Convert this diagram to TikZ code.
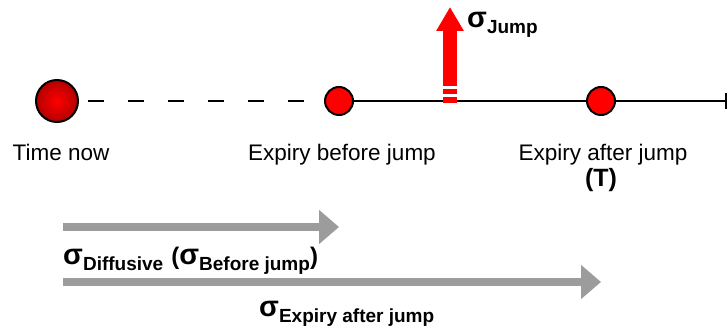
\documentclass[tikz,border=0pt]{standalone}
\usepackage{fontspec}
\setmainfont{Liberation Sans}
\usepackage{tikz}
\usetikzlibrary{arrows.meta,positioning,calc}
\definecolor{dotred}{HTML}{FF0000}
\definecolor{spangray}{HTML}{9C9C9C}
\newcommand\sigsub[1]{\raisebox{-6pt}{\fontsize{19}{21}\selectfont #1}}

\begin{document}
\begin{tikzpicture}[x=1pt,y=1pt,
  dot/.style={circle,draw=black,line width=2pt,fill=dotred,minimum size=28pt,inner sep=0pt},
  timeline/.style={line width=2pt,black},
  when/.style={anchor=base,inner sep=0pt,font=\fontsize{22.5}{27}\selectfont},
  siglabel/.style={anchor=base west,inner sep=0pt,font=\bfseries\fontsize{29}{32}\selectfont},
  span/.style={line width=8pt,spangray,-{Triangle[length=20pt,width=33pt]}},
  jumparrow/.style={line width=14pt,dotred,-{Triangle[length=24pt,width=26pt]}}
]
  \useasboundingbox (0,0) rectangle (727,-328);
  \node[circle,draw=black,line width=2pt,minimum size=42pt,inner sep=0pt,shading=radial,inner color=dotred,outer color=dotred!70!black] (now) at (57,-101) {};
  \node[dot] (before) at (339,-101) {};
  \node[dot] (after) at (601,-101) {};
  \coordinate (end) at (726,-101);
  \coordinate (jump) at (450,-101);
  \coordinate (jumptip) at (450,-7);
  \draw[timeline,dash pattern=on 16pt off 24pt,dash phase=31pt] (now) -- (before);
  \draw[timeline] (before) -- (after);
  \draw[timeline] (after) -- (end);
  \draw[timeline] ([yshift=-8pt]end) -- ([yshift=8pt]end);
  \fill[dotred] ([xshift=-7pt,yshift=-2pt]jump) rectangle ([xshift=7pt,yshift=4pt]jump);
  \fill[dotred] ([xshift=-7pt,yshift=7pt]jump) rectangle ([xshift=7pt,yshift=12pt]jump);
  \draw[jumparrow] ([yshift=15pt]jump) -- (jumptip);
  \node[siglabel] (jumplabel) at (467,-28) {σ\sigsub{Jump}};
  \node[when] (nowlabel) at (61,-161) {Time now};
  \node[when] (beforelabel) at (342,-161) {Expiry before jump};
  \node[when] (afterlabel) at (603,-161) {Expiry after jump};
  \node[when,font=\bfseries\fontsize{25}{29}\selectfont] (maturity) at (601,-187) {(T)};
  \coordinate (diffstart) at (63,-227);
  \coordinate (expstart) at (63,-282);
  \draw[span] (diffstart) -- (before |- diffstart);
  \draw[span] (expstart) -- (after |- expstart);
  \node[siglabel] (difflabel) at (63,-265) {σ\sigsub{Diffusive} {\fontsize{24}{28}\selectfont(}σ\sigsub{Before jump}{\fontsize{24}{28}\selectfont)}};
  \node[siglabel] (explabel) at (259,-316) {σ\sigsub{Expiry after jump}};
\end{tikzpicture}
\end{document}
